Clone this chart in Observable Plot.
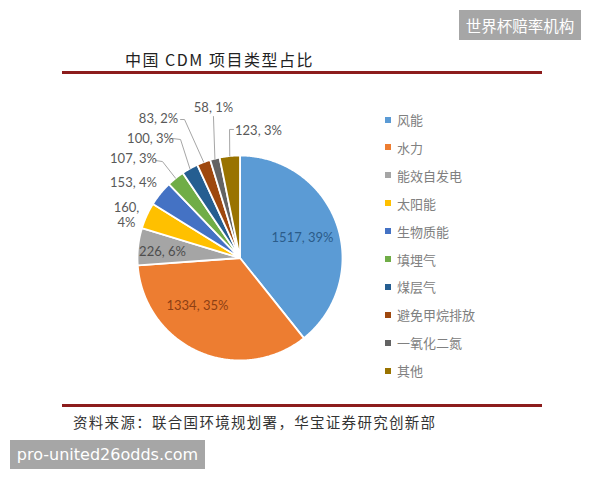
<!DOCTYPE html>
<html>
<head>
<meta charset="utf-8">
<script src="https://cdn.jsdelivr.net/npm/d3@7"></script>
<script src="https://cdn.jsdelivr.net/npm/@observablehq/plot@0.6"></script>
<style>
  html, body { margin: 0; padding: 0; background: #fff; }
  #wrap { position: relative; width: 600px; height: 480px; overflow: hidden; background: #fff; }
  #chart { position: absolute; left: 0; top: 0; }
  .abs { position: absolute; white-space: nowrap; }
  #title { left: 125px; top: 47px; font-family: "Noto Sans CJK SC", sans-serif; font-size: 16px; color: #222; letter-spacing: 1.5px; }
  .rule { position: absolute; left: 62px; width: 480px; height: 3px; background: #8C1C1C; }
  #footer { left: 73px; top: 411px; font-family: "Noto Sans CJK SC", sans-serif; font-size: 14.5px; color: #333; letter-spacing: 1.3px; font-weight: 400; }
  #legend { left: 385px; top: 0; }
  .li { position: absolute; left: 0; font-family: "Noto Sans CJK SC", sans-serif; font-size: 13px; color: #808080; display: flex; align-items: center; }
  .sw { width: 6px; height: 6px; margin-right: 6px; }
  .wm { position: absolute; background: #A6A6A6; color: #fff; display: flex; align-items: center; justify-content: center; }
</style>
</head>
<body>
<div id="wrap">
  <div id="chart"></div>
  <div id="title" class="abs">中国 CDM 项目类型占比</div>
  <div class="rule" style="top:71px"></div>
  <div class="rule" style="top:404px"></div>
  <div id="footer" class="abs">资料来源：联合国环境规划署，华宝证券研究创新部</div>
  <div id="legend" class="abs"></div>
  <div class="wm" style="left:459px;top:10px;width:122px;height:30px;font-family:'Noto Sans CJK SC',sans-serif;font-size:15.5px;">世界杯赔率机构</div>
  <div class="wm" style="left:10px;top:440px;width:195px;height:29px;font-family:'DejaVu Sans',sans-serif;font-size:16px;">pro-united26odds.com</div>
</div>
<script>
// ---- data ----
const categories = ["风能", "水力", "能效自发电", "太阳能", "生物质能", "填埋气", "煤层气", "避免甲烷排放", "一氧化二氮", "其他"];
const values = [1517, 1334, 226, 160, 153, 107, 100, 83, 58, 123];
const percents = [39, 35, 6, 4, 4, 3, 3, 2, 1, 3];

// ---- styles / layout ----
const colors = ["#5B9BD5", "#ED7D31", "#A5A5A5", "#FFC000", "#4472C4", "#70AD47", "#255E91", "#9E480E", "#636363", "#997300"];
const labelColors = ["#2B5C8A", "#8E4014", "#4D4D4D", "#595959", "#595959", "#595959", "#595959", "#595959", "#595959", "#595959"];
// label anchor positions in pie-radius units
const labelPos = [[0.61, 0.2], [-0.415, -0.463], [-0.756, 0.063], [-1.107, 0.424], [-1.039, 0.737], [-1.039, 0.971], [-0.873, 1.166], [-0.795, 1.361], [-0.259, 1.468], [0.18, 1.244]];
const twoLine = [false, false, false, true, false, false, false, false, false, false];
// leader line start / elbow points (pie-radius units); the end is the slice's rim midpoint
const leaderPts = {5: [[-0.824, 0.951], [-0.756, 0.941]], 6: [[-0.659, 1.166], [-0.58, 1.156]], 7: [[-0.58, 1.351], [-0.541, 1.351]], 8: [[-0.259, 1.38]], 9: [[-0.063, 1.254], [-0.102, 1.254]]};

const arcs = d3.pie().sort(null)(values);
const slices = [];
arcs.forEach((a, i) => {
  const n = Math.max(2, Math.ceil((a.endAngle - a.startAngle) / (Math.PI / 360)));
  slices.push({cat: categories[i], x: 0, y: 0});
  for (let k = 0; k <= n; k++) {
    const t = a.startAngle + (a.endAngle - a.startAngle) * k / n;
    slices.push({cat: categories[i], x: Math.sin(t), y: Math.cos(t)});
  }
  slices.push({cat: categories[i], x: 0, y: 0});
});

const labels = arcs.map((a, i) => ({
  x: labelPos[i][0], y: labelPos[i][1],
  text: twoLine[i] ? `${values[i]},\n${percents[i]}%` : `${values[i]}, ${percents[i]}%`,
  color: labelColors[i]
}));

const leaders = [];
Object.entries(leaderPts).forEach(([k, pts]) => {
  const i = +k, a = arcs[i], m = (a.startAngle + a.endAngle) / 2;
  pts.forEach(p => leaders.push({i, x: p[0], y: p[1]}));
  leaders.push({i, x: Math.sin(m), y: Math.cos(m)});
});

const chart = Plot.plot({
  width: 600,
  height: 480,
  margin: 0,
  style: {background: "transparent", fontFamily: "Lato, 'Open Sans', sans-serif", overflow: "visible"},
  x: {domain: [-1, 1], range: [137, 342], axis: null},
  y: {domain: [-1, 1], range: [360, 155], axis: null},
  color: {domain: categories, range: colors},
  marks: [
    Plot.line(slices, {x: "x", y: "y", z: "cat", fill: "cat", stroke: "white", strokeWidth: 1.8, strokeLinejoin: "round", curve: "linear"}),
    Plot.line(leaders, {x: "x", y: "y", z: "i", stroke: "#A6A6A6", strokeWidth: 1}),
    Plot.text(labels, {x: "x", y: "y", text: "text", fill: d => d.color, fontSize: 13, lineHeight: 1.15, textAnchor: "middle", lineAnchor: "middle"})
  ]
});
document.getElementById("chart").appendChild(chart);

// legend
const legend = document.getElementById("legend");
categories.forEach((c, i) => {
  const row = document.createElement("div");
  row.className = "li";
  row.style.top = (110 + i * 27.9) + "px";
  const sw = document.createElement("span");
  sw.className = "sw";
  sw.style.background = colors[i];
  const tx = document.createElement("span");
  tx.textContent = c;
  row.appendChild(sw);
  row.appendChild(tx);
  legend.appendChild(row);
});
</script>
</body>
</html>
